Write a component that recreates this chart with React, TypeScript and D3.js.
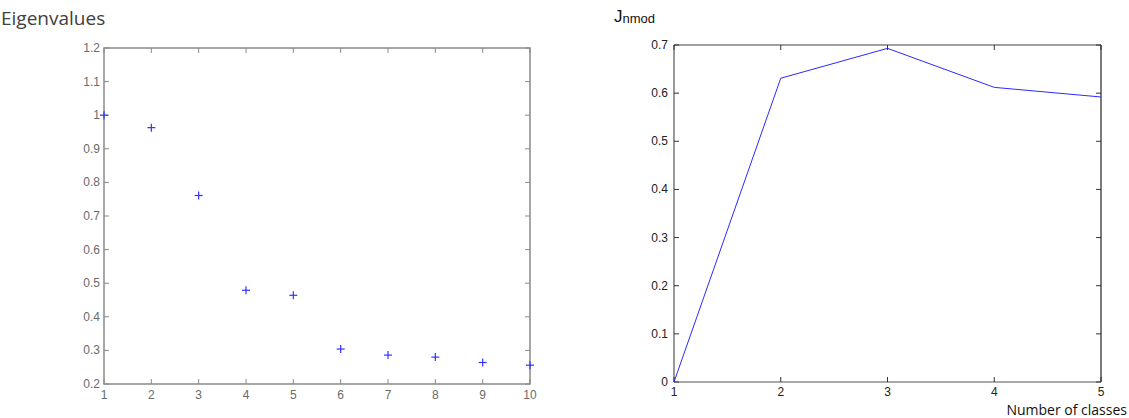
import React from "react";
import * as d3 from "d3";

const eigIndex = [1, 2, 3, 4, 5, 6, 7, 8, 9, 10];
const eigValues = [1.0, 0.963, 0.761, 0.479, 0.464, 0.304, 0.286, 0.28, 0.264, 0.256];
const eigYTicks = [0.2, 0.3, 0.4, 0.5, 0.6, 0.7, 0.8, 0.9, 1, 1.1, 1.2];

const classes = [1, 2, 3, 4, 5];
const jnmod = [0, 0.631, 0.693, 0.612, 0.592];
const jYTicks = [0, 0.1, 0.2, 0.3, 0.4, 0.5, 0.6, 0.7];

export default function App() {
  const L = { x0: 104, x1: 530, y0: 48, y1: 384 };
  const R = { x0: 674, x1: 1101, y0: 45, y1: 382 };
  const lx = d3.scaleLinear().domain([1, 10]).range([L.x0, L.x1]);
  const ly = d3.scaleLinear().domain([0.2, 1.2]).range([L.y1, L.y0]);
  const rx = d3.scaleLinear().domain([1, 5]).range([R.x0, R.x1]);
  const ry = d3.scaleLinear().domain([0, 0.7]).range([R.y1, R.y0]);
  const line = d3
    .line<number>()
    .x((_, i) => rx(classes[i]))
    .y((d) => ry(d));
  const tk = 5;
  const lc = "#8a8a8a";
  const lt = "#6a6a6a";
  const fmt = (v: number) => d3.format("")(+v.toFixed(1));

  return (
    <svg width={1129} height={418} style={{ position: "absolute", left: 0, top: 0, background: "#fff" }}>
      {/* Left chart */}
      <text x={1} y={25} fontFamily="Open Sans, sans-serif" fontSize={19} fill="#404040">
        Eigenvalues
      </text>
      <rect x={L.x0} y={L.y0} width={L.x1 - L.x0} height={L.y1 - L.y0} fill="none" stroke={lc} strokeWidth={1.5} />
      {eigYTicks.map((t) => (
        <g key={"ly" + t}>
          <line x1={L.x0} x2={L.x0 + tk} y1={ly(t)} y2={ly(t)} stroke={lc} />
          <line x1={L.x1} x2={L.x1 - tk} y1={ly(t)} y2={ly(t)} stroke={lc} />
          <text x={L.x0 - 4} y={ly(t) + 4} textAnchor="end" fontFamily="Liberation Sans, Arial, sans-serif" fontSize={12} fill={lt}>
            {fmt(t)}
          </text>
        </g>
      ))}
      {eigIndex.map((t) => (
        <g key={"lx" + t}>
          <line x1={lx(t)} x2={lx(t)} y1={L.y1} y2={L.y1 - tk} stroke={lc} />
          <line x1={lx(t)} x2={lx(t)} y1={L.y0} y2={L.y0 + tk} stroke={lc} />
          <text x={lx(t)} y={L.y1 + 15} textAnchor="middle" fontFamily="Liberation Sans, Arial, sans-serif" fontSize={12} fill={lt}>
            {t}
          </text>
        </g>
      ))}
      {eigValues.map((v, i) => (
        <g key={"p" + i} stroke="#3333ff" strokeWidth={1.2}>
          <line x1={lx(eigIndex[i]) - 4} x2={lx(eigIndex[i]) + 4} y1={ly(v)} y2={ly(v)} />
          <line x1={lx(eigIndex[i])} x2={lx(eigIndex[i])} y1={ly(v) - 4} y2={ly(v) + 4} />
        </g>
      ))}

      {/* Right chart */}
      <text x={614} y={22} fontFamily="Liberation Sans, Arial, sans-serif" fill="#111">
        <tspan fontSize={17}>J</tspan>
        <tspan fontSize={13} dy={1}>nmod</tspan>
      </text>
      <line x1={R.x0} x2={R.x1} y1={R.y0} y2={R.y0} stroke="#808080" strokeWidth={1.5} />
      <line x1={R.x0} x2={R.x0} y1={R.y0} y2={R.y1} stroke="#555" strokeWidth={1.2} />
      <line x1={R.x1} x2={R.x1} y1={R.y0} y2={R.y1} stroke="#222" strokeWidth={1.2} />
      <line x1={R.x0} x2={R.x1} y1={R.y1} y2={R.y1} stroke="#555" strokeWidth={1.2} />
      {jYTicks.map((t) => (
        <g key={"ry" + t}>
          <line x1={R.x0} x2={R.x0 + tk} y1={ry(t)} y2={ry(t)} stroke="#333" />
          <line x1={R.x1} x2={R.x1 - tk} y1={ry(t)} y2={ry(t)} stroke="#333" />
          <text x={R.x0 - 6} y={ry(t) + 4} textAnchor="end" fontFamily="Liberation Sans, Arial, sans-serif" fontSize={12} fill="#222">
            {fmt(t)}
          </text>
        </g>
      ))}
      {classes.map((t) => (
        <g key={"rx" + t}>
          <line x1={rx(t)} x2={rx(t)} y1={R.y1} y2={R.y1 - tk} stroke="#333" />
          <line x1={rx(t)} x2={rx(t)} y1={R.y0} y2={R.y0 + tk} stroke="#333" />
          <text x={rx(t)} y={R.y1 + 14} textAnchor="middle" fontFamily="Liberation Sans, Arial, sans-serif" fontSize={12} fill="#222">
            {t}
          </text>
        </g>
      ))}
      <path d={line(jnmod) || ""} fill="none" stroke="#2a2aff" strokeWidth={1} />
      <text x={1127} y={415} textAnchor="end" fontFamily="Open Sans, sans-serif" fontSize={14} fill="#111">
        Number of classes
      </text>
    </svg>
  );
}
